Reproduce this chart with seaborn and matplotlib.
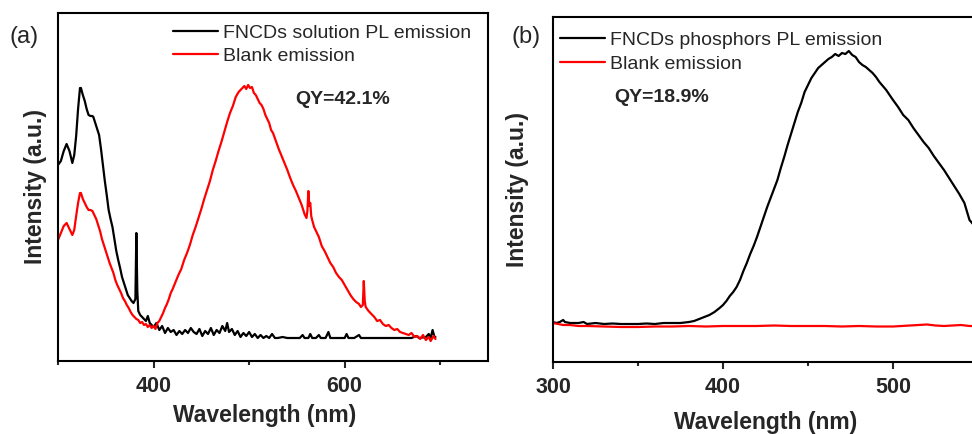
import numpy as np
import pandas as pd
import seaborn as sns
import matplotlib.pyplot as plt
from matplotlib.ticker import MultipleLocator

# ---- panel (a): FNCDs solution ----
wl_a_pl = [300, 303, 306, 309, 312, 315, 317, 319, 321, 323, 324, 326, 328, 330, 332, 334, 336, 337,
           339, 341, 343, 345, 347, 349, 351, 353, 355, 357, 359, 361, 363, 365, 367, 369, 371, 373,
           375, 377, 379, 381, 382, 383, 384, 386, 388, 390, 392, 394, 396, 398, 400, 403, 406, 409,
           412, 415, 418, 421, 424, 427, 430, 433, 436, 439, 442, 445, 448, 451, 454, 457, 460, 463,
           466, 469, 472, 475, 477, 479, 482, 485, 488, 491, 494, 497, 500, 503, 506, 509, 512, 515,
           518, 521, 524, 527, 530, 535, 540, 545, 550, 553, 556, 558, 562, 564, 566, 570, 573, 575,
           580, 583, 585, 590, 600, 602, 604, 610, 615, 617, 625, 650, 670, 675, 678, 685, 688, 690,
           692, 694, 695]
int_a_pl = [196, 200, 210, 217, 210, 198, 206, 225, 252, 273, 273, 266, 260, 252, 246, 245, 245, 244,
            238, 232, 226, 212, 196, 180, 166, 151, 142, 134, 122, 110, 101, 93, 84, 78, 72, 66,
            63, 60, 58, 62, 128, 70, 50, 46, 44, 42, 40, 45, 38, 36, 34, 38, 31, 35,
            28, 33, 29, 31, 26, 30, 27, 31, 28, 33, 29, 27, 32, 25, 30, 27, 33, 26,
            31, 28, 35, 30, 38, 29, 32, 26, 30, 24, 28, 25, 29, 24, 27, 23, 26, 23,
            25, 23, 27, 23, 23, 24, 23, 23, 23, 23, 26, 23, 23, 27, 23, 23, 26, 23,
            23, 29, 23, 23, 23, 27, 23, 23, 26, 23, 23, 23, 23, 25, 23, 24, 27, 23,
            31, 24, 24]

wl_a_blank = [300, 303, 306, 309, 312, 315, 317, 319, 321, 323, 324, 326, 328, 330, 332, 334, 336, 338,
              340, 342, 344, 346, 348, 350, 352, 354, 356, 358, 360, 362, 364, 366, 368, 370, 372, 374,
              376, 378, 380, 382, 384, 386, 388, 390, 392, 394, 396, 398, 400, 402, 404, 406, 408, 410,
              412, 414, 416, 418, 420, 423, 426, 429, 432, 435, 438, 441, 444, 447, 450, 453, 456, 459,
              462, 465, 468, 471, 474, 477, 480, 483, 486, 489, 491, 493, 495, 497, 499, 501, 503, 505,
              507, 509, 511, 513, 515, 517, 519, 521, 523, 525, 528, 531, 534, 537, 540, 543, 546, 549,
              552, 555, 558, 560, 561, 562, 563, 564, 565, 566, 568, 570, 573, 576, 579, 582, 585, 588,
              591, 594, 597, 600, 603, 606, 609, 612, 615, 617, 619, 620, 621, 622, 625, 628, 631, 634,
              637, 640, 643, 646, 649, 652, 655, 658, 661, 664, 667, 670, 673, 676, 679, 682, 685, 688,
              690, 693, 695]
int_a_blank = [121, 128, 135, 138, 132, 126, 131, 145, 158, 168, 168, 162, 158, 154, 151, 151, 150, 146,
               142, 136, 130, 122, 116, 110, 104, 98, 93, 88, 81, 76, 72, 68, 63, 60, 56, 53,
               49, 46, 44, 42, 41, 38, 39, 36, 37, 34, 36, 33, 35, 32, 38, 40, 44, 48,
               53, 57, 62, 68, 72, 79, 86, 92, 101, 108, 116, 126, 134, 143, 152, 162, 171, 180,
               191, 200, 210, 219, 229, 239, 248, 255, 264, 269, 271, 273, 275, 272, 276, 273, 274, 268,
               266, 262, 258, 256, 252, 246, 242, 238, 231, 228, 220, 212, 205, 198, 191, 183, 176, 170,
               163, 156, 147, 143, 150, 170, 155, 158, 145, 141, 134, 130, 124, 115, 110, 104, 98, 94,
               88, 84, 81, 76, 71, 66, 62, 59, 57, 54, 56, 80, 60, 54, 50, 47, 44, 40,
               41, 37, 35, 36, 33, 31, 32, 29, 28, 27, 26, 28, 24, 25, 22, 26, 21, 24,
               20, 25, 22]

# ---- panel (b): FNCDs phosphors ----
wl_b_pl = [300, 302, 304, 306, 307, 310, 315, 318, 320, 325, 330, 335, 340, 345, 350, 355, 360, 365,
           370, 375, 380, 383, 386, 389, 392, 395, 398, 400, 402, 404, 406, 408, 410, 412, 414, 416,
           418, 420, 422, 424, 426, 428, 430, 432, 434, 436, 438, 440, 442, 444, 446, 448, 450, 452,
           454, 456, 458, 460, 462, 464, 466, 468, 470, 472, 474, 476, 478, 480, 482, 484, 486, 488,
           490, 492, 494, 496, 498, 500, 503, 506, 509, 512, 515, 518, 521, 524, 527, 530, 533, 536,
           539, 542, 545, 548]
int_b_pl = [40, 39, 40, 42, 40, 39, 39, 40, 38, 39, 38, 38.5, 38, 38, 38, 38.5, 38, 39,
            39, 39, 40, 41, 43, 45, 47, 50, 54, 57, 61, 66, 70, 75, 82, 91, 99, 108,
            116, 125, 135, 145, 155, 164, 173, 182, 194, 205, 217, 228, 239, 250, 259, 270, 277, 284,
            289, 294, 297, 300, 303, 305, 308, 306, 309, 308, 311, 307, 305, 300, 297, 295, 292, 289,
            285, 280, 276, 272, 267, 262, 255, 247, 242, 234, 227, 220, 214, 206, 199, 192, 184, 176,
            168, 159, 142, 136]

wl_b_blank = [300, 303, 306, 310, 315, 320, 330, 340, 350, 360, 370, 380, 390, 400, 410, 420, 430, 440,
              450, 460, 470, 480, 490, 500, 505, 510, 515, 520, 525, 530, 535, 540, 545, 550]
int_b_blank = [39, 38, 37, 37, 36, 36, 35.5, 35, 35, 35.5, 35.5, 36, 35.5, 36, 36, 36, 36.5, 36,
               36, 36, 35.5, 36, 35.5, 35.5, 36, 36.5, 37, 37.5, 36.5, 36, 36.5, 37, 36, 36]

sns.set_style('ticks')
plt.rcParams['font.family'] = ['Liberation Sans', 'DejaVu Sans']

W, H = 972, 434
fig = plt.figure(figsize=(W / 100, H / 100), dpi=100)
ax1 = fig.add_axes([58 / W, (H - 361) / H, 430 / W, 348 / H])
ax2 = fig.add_axes([553 / W, (H - 362) / H, 425 / W, 345 / H])

sns.lineplot(x=wl_a_pl, y=int_a_pl, ax=ax1, color='black', lw=1.6,
             label='FNCDs solution PL emission', estimator=None)
sns.lineplot(x=wl_a_blank, y=int_a_blank, ax=ax1, color='#ff0000', lw=1.6,
             label='Blank emission', estimator=None)
sns.lineplot(x=wl_b_pl, y=int_b_pl, ax=ax2, color='black', lw=1.6,
             label='FNCDs phosphors PL emission', estimator=None)
sns.lineplot(x=wl_b_blank, y=int_b_blank, ax=ax2, color='#ff0000', lw=1.6,
             label='Blank emission', estimator=None)

ax1.set_xlim(300, 750)
ax1.set_ylim(0, 348)
ax1.xaxis.set_major_locator(MultipleLocator(200))
ax1.xaxis.set_minor_locator(MultipleLocator(100))
ax2.set_xlim(300, 550)
ax2.set_ylim(0, 345)
ax2.xaxis.set_major_locator(MultipleLocator(100))
ax2.xaxis.set_minor_locator(MultipleLocator(50))

for ax in (ax1, ax2):
    for s in ax.spines.values():
        s.set_linewidth(1.5)
        s.set_color('black')
    ax.set_yticks([])
    ax.tick_params(axis='x', which='major', length=5, width=1.5, direction='out', pad=6,
                   labelsize=15.5)
    ax.tick_params(axis='x', which='minor', length=3, width=1.5, direction='out')
    for t in ax.get_xticklabels():
        t.set_fontweight('bold')

ax1.set_xlabel('Wavelength (nm)', fontsize=16.5, fontweight='bold', labelpad=5)
ax1.xaxis.label.set_x(0.48)
ax1.set_ylabel('Intensity (a.u.)', fontsize=16.5, fontweight='bold', labelpad=8)
ax2.set_xlabel('Wavelength (nm)', fontsize=16.5, fontweight='bold', labelpad=9)
ax2.set_ylabel('Intensity (a.u.)', fontsize=16.5, fontweight='bold', labelpad=17)

ax1.legend(loc='upper left', bbox_to_anchor=(0.267, 0.968), frameon=False, fontsize=14,
           borderaxespad=0, borderpad=0, handlelength=2.3, handletextpad=0.3, labelspacing=0.3)
ax2.legend(loc='upper left', bbox_to_anchor=(0.016, 0.958), frameon=False, fontsize=14,
           borderaxespad=0, borderpad=0, handlelength=2.3, handletextpad=0.3, labelspacing=0.3)

ax1.text(0.551, 0.75, 'QY=42.1%', transform=ax1.transAxes, fontsize=14, fontweight='bold',
         va='center', ha='left')
ax2.text(0.144, 0.768, 'QY=18.9%', transform=ax2.transAxes, fontsize=14, fontweight='bold',
         va='center', ha='left')

fig.text(24 / W, 1 - 37 / H, '(a)', fontsize=17, ha='center', va='center')
fig.text(526 / W, 1 - 37 / H, '(b)', fontsize=17, ha='center', va='center')

fig.savefig('out.png', dpi=100)
